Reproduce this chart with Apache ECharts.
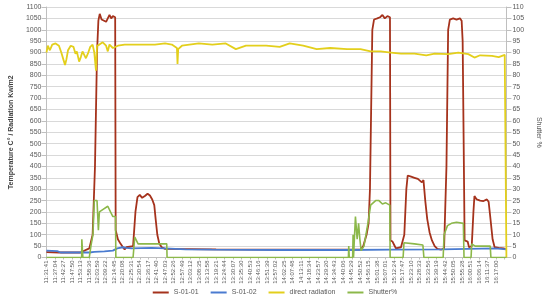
<!DOCTYPE html>
<html>
<head>
<meta charset="utf-8">
<script src="https://cdn.jsdelivr.net/npm/echarts@6/dist/echarts.min.js"></script>
<style>
  html, body { margin: 0; padding: 0; background: #fff; }
  #chart { width: 550px; height: 303px; }
</style>
</head>
<body>
<div id="chart"></div>
<script>
// time labels on the x axis (one every 5:23)
var timeLabels = ['11:31:41','11:37:04','11:42:27','11:47:50','11:53:13','11:58:36','12:03:59','12:09:22','12:14:45','12:20:08',
  '12:25:31','12:30:54','12:36:17','12:41:40','12:47:03','12:52:26','12:57:49','13:03:12','13:08:35','13:13:58',
  '13:19:21','13:24:44','13:30:07','13:35:30','13:40:53','13:46:16','13:51:39','13:57:02','14:02:25','14:07:48',
  '14:13:11','14:18:34','14:23:57','14:29:20','14:34:43','14:40:06','14:45:29','14:50:52','14:56:15','15:01:38',
  '15:07:01','15:12:24','15:17:47','15:23:10','15:28:33','15:33:56','15:39:19','15:44:42','15:50:05','15:55:28',
  '16:00:51','16:06:14','16:11:37','16:17:00'];

// x = position in label steps from 11:31:41, y = value
var s0101 = [[0,24],[1.5,22],[4,22],[5.05,40],[5.44,100],[5.72,400],[5.96,900],[6.12,1040],[6.28,1070],[6.5,1045],[7.03,1035],
  [7.23,1050],[7.43,1065],[7.63,1050],[7.83,1060],[8.1,1055],[8.16,120],[8.42,80],[8.74,60],[9.02,45],[9.22,35],[9.42,45],
  [9.62,40],[10.21,50],[10.49,200],[10.73,265],[11.0,275],[11.28,262],[11.6,270],[11.92,280],[12.2,272],[12.47,255],
  [12.71,230],[12.87,170],[13.07,100],[13.31,60],[13.59,45],[13.98,38],[20,36],[30,35],[37.03,35],[37.35,50],[37.74,100],
  [37.98,150],[38.14,300],[38.3,700],[38.42,1000],[38.62,1045],[39.0,1050],[39.33,1055],[39.61,1065],[39.89,1050],
  [40.2,1060],[40.5,1055],[40.56,75],[40.8,70],[41.0,55],[41.2,40],[41.8,45],[42.19,100],[42.43,300],[42.59,360],
  [42.99,355],[43.39,350],[43.79,345],[43.98,350],[44.26,330],[44.45,340],[44.66,250],[44.89,170],[45.17,110],[45.45,75],
  [45.77,50],[46.09,38],[46.56,35],[46.88,40],[47.16,400],[47.36,1000],[47.56,1045],[47.95,1050],[48.35,1045],[48.75,1050],
  [48.95,1040],[49.07,950],[49.19,500],[49.3,75],[49.66,70],[49.82,45],[50.14,50],[50.34,200],[50.46,270],[50.73,255],
  [51.13,250],[51.53,248],[51.93,255],[52.13,245],[52.32,180],[52.6,80],[52.84,45],[53.32,42],[53.91,40],[54.23,35]];

var s0102 = [[0,30],[1.27,28],[1.67,22],[5.05,22],[5.64,25],[6.83,27],[7.83,30],[8.34,40],[9.02,45],[9.42,42],[10.0,40],
  [12.4,42],[14.0,40],[16.4,36],[19.5,35],[27.5,33],[35.4,33],[40.6,35],[46.6,36],[52.9,40],[54.23,36]];

var directRadiation = [[0,900],[0.16,930],[0.4,910],[0.68,935],[1.07,940],[1.47,930],[1.75,900],[1.99,870],[2.19,845],
  [2.35,870],[2.54,910],[2.86,930],[3.18,925],[3.42,895],[3.58,905],[3.85,860],[4.05,880],[4.25,905],[4.45,890],[4.65,875],
  [4.93,900],[5.16,925],[5.44,935],[5.64,900],[5.84,820],[5.96,930],[6.24,935],[6.63,945],[7.03,930],[7.23,905],[7.43,935],
  [7.83,920],[8.42,930],[9.22,935],[10.8,935],[12.79,935],[13.98,940],[14.78,935],[15.38,920],[15.45,850],[15.53,915],
  [15.97,930],[17.96,940],[19.55,935],[21.14,940],[22.33,915],[23.52,930],[25.9,930],[27.5,925],[28.68,940],[30.27,930],
  [31.86,915],[33.45,920],[35.44,915],[37.03,915],[38.22,905],[39.41,905],[40.6,900],[41.8,895],[43.39,895],[44.78,888],
  [45.77,895],[47.36,893],[48.55,900],[49.74,893],[50.46,878],[51.13,888],[52.52,885],[53.32,880],[54.03,890],[54.2,890],[54.23,0]];

var shutter = [[0,0],[4.15,0],[4.17,8],[4.27,8],[4.29,0],[5.05,0],[5.24,5],[5.48,10],[5.64,25],[5.96,25],[6.12,12],[6.24,20],
  [6.63,21],[7.23,22.5],[7.55,20],[7.83,18],[8.14,18],[8.18,0],[10.21,0],[10.41,9],[10.8,6],[14.18,6],[14.22,0],
  [35.6,0],[35.64,5],[35.7,0],[36.1,0],[36.15,10],[36.2,0],[36.4,0],[36.43,18],[36.63,8],[36.8,15],[36.95,8],[37.1,3],
  [37.43,5],[37.9,15],[38.22,23],[38.81,25],[39.2,25],[39.61,23.5],[40.0,24],[40.48,23],[40.52,0],[42.05,0],[42.15,6.5],
  [43.39,6],[44.38,5.5],[44.5,0],[46.77,0],[46.88,10],[47.28,14],[47.75,15],[48.35,15.5],[49.15,15],[49.23,0],[50.06,0],
  [50.14,6],[50.54,5],[52.32,5],[52.4,0],[54.23,0]];

var chart = echarts.init(document.getElementById('chart'));
var labelColor = '#595959';
chart.setOption({
  animation: false,
  textStyle: { fontFamily: 'Liberation Sans, Arial, sans-serif' },
  grid: { left: 38, right: 33, top: 7, bottom: 45.5, containLabel: false },
  legend: {
    bottom: 2,
    left: 'center',
    itemWidth: 16,
    itemHeight: 2,
    itemGap: 12,
    icon: 'rect',
    textStyle: { fontSize: 7, color: labelColor },
    data: ['S-01-01', 'S-01-02', 'direct radiation', 'Shutter%']
  },
  xAxis: {
    type: 'value',
    min: 0,
    max: 54.23,
    interval: 1,
    splitLine: { show: false },
    axisLine: { lineStyle: { color: '#bfbfbf' } },
    axisTick: { show: true, lineStyle: { color: '#bfbfbf' }, length: 2 },
    axisLabel: {
      rotate: 90,
      fontSize: 6,
      color: labelColor,
      margin: 3,
      showMaxLabel: false,
      formatter: function (v) {
        return Number.isInteger(v) && timeLabels[v] ? timeLabels[v] : '';
      }
    }
  },
  yAxis: [{
    type: 'value',
    min: 0,
    max: 1100,
    interval: 50,
    name: 'Temperature C° / Radiation Kw/m2',
    nameLocation: 'middle',
    nameGap: 28,
    nameTextStyle: { fontSize: 7, fontWeight: 'bold', color: '#404040' },
    axisLine: { show: true, lineStyle: { color: '#bfbfbf' } },
    axisLabel: { fontSize: 7, color: labelColor, margin: 5, formatter: function (v) { return String(v); } },
    splitLine: { lineStyle: { color: '#d9d9d9', width: 1 } }
  }, {
    type: 'value',
    min: 0,
    max: 110,
    interval: 5,
    name: 'Shutter %',
    nameLocation: 'middle',
    nameGap: 24,
    nameRotate: -90,
    nameTextStyle: { fontSize: 7, color: labelColor },
    axisLine: { show: true, lineStyle: { color: '#bfbfbf' } },
    axisLabel: { fontSize: 7, color: labelColor, margin: 6 },
    splitLine: { show: false }
  }],
  series: [{
    name: 'S-01-01', type: 'line', data: s0101, symbol: 'none',
    lineStyle: { width: 1.8, color: '#a5321c' }, itemStyle: { color: '#a5321c' }
  }, {
    name: 'S-01-02', type: 'line', data: s0102, symbol: 'none',
    lineStyle: { width: 1.8, color: '#4a7bd0' }, itemStyle: { color: '#4a7bd0' }
  }, {
    name: 'direct radiation', type: 'line', data: directRadiation, symbol: 'none',
    lineStyle: { width: 1.8, color: '#e3cf1c' }, itemStyle: { color: '#e3cf1c' }
  }, {
    name: 'Shutter%', type: 'line', yAxisIndex: 1, data: shutter, symbol: 'none',
    lineStyle: { width: 1.6, color: '#8cb84a' }, itemStyle: { color: '#8cb84a' }
  }]
});
</script>
</body>
</html>
